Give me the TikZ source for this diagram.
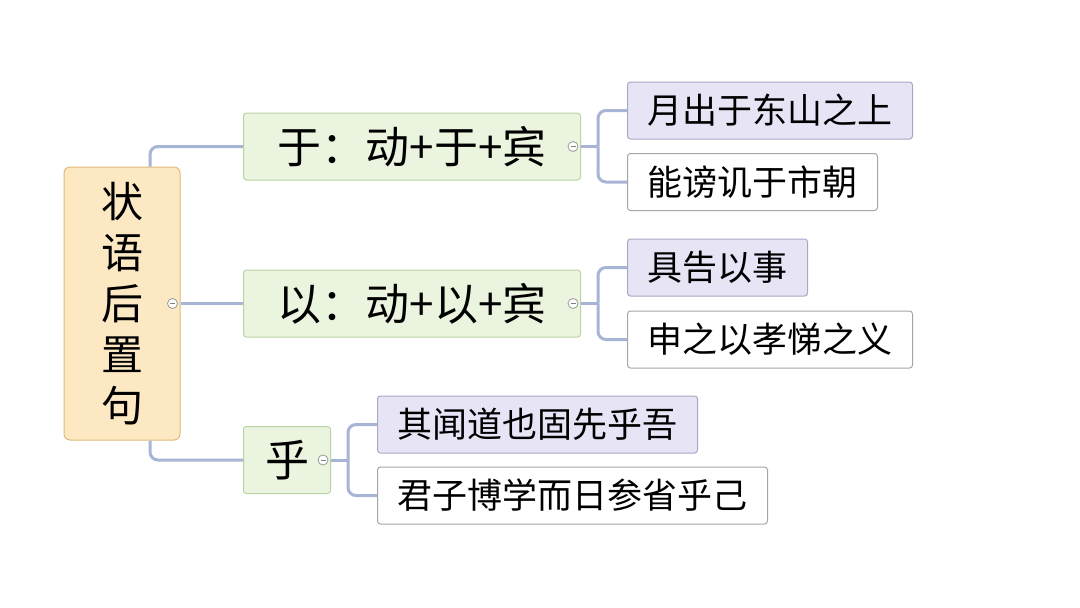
\documentclass[tikz,border=0pt]{standalone}
\usepackage{fontspec}
\setmainfont{Noto Sans CJK SC}
\usetikzlibrary{positioning}
\definecolor{rootfill}{HTML}{FCE9C4}
\definecolor{rootline}{HTML}{E2B978}
\definecolor{midfill}{HTML}{EBF4DF}
\definecolor{midline}{HTML}{B9D3A2}
\definecolor{leaffill}{HTML}{E7E4F6}
\definecolor{leafline}{HTML}{A9A7C6}
\definecolor{linkc}{HTML}{A8B4D6}
\tikzset{
  box/.style={draw, rounded corners=3pt, line width=1pt, anchor=west, inner xsep=18pt, inner ysep=0pt},
  mid/.style={box, fill=midfill, draw=midline, minimum height=67pt, font=\fontsize{44}{48}\selectfont},
  leafa/.style={box, fill=leaffill, draw=leafline, minimum height=57pt, inner xsep=20pt, font=\fontsize{35}{38}\selectfont},
  leafb/.style={box, fill=white, draw=black!35, minimum height=57pt, inner xsep=20pt, font=\fontsize{35}{38}\selectfont},
  link/.style={draw=linkc, line width=3pt, rounded corners=8pt},
  knob/.style={circle, draw=black!40, fill=white, line width=0.8pt, inner sep=0pt, minimum size=10pt}
}
\begin{document}
\begin{tikzpicture}[x=1pt,y=-1pt]
  \useasboundingbox[fill=white] (0,0) rectangle (1080,608);

  \node[draw=rootline, fill=rootfill, rounded corners=6pt, line width=1pt,
    minimum width=116pt, minimum height=273pt, align=center,
    font=\fontsize{42}{51}\selectfont] (root) at (122,303.5) {状\\语\\后\\置\\句};

  \node[mid, minimum width=337pt] (yu) at (243,146.5) {于：动+于+宾};
  \node[mid, minimum width=337pt] (yi) at (243,303.5) {以：动+以+宾};
  \node[mid, minimum width=87pt] (hu) at (243,460) {乎};

  \node[leafa] (l1) at (627,110.5) {月出于东山之上};
  \node[leafb] (l2) at (627,182) {能谤讥于市朝};
  \node[leafa] (l3) at (627,267.5) {具告以事};
  \node[leafb] (l4) at (627,339.5) {申之以孝悌之义};
  \node[leafa] (l5) at (377,424.5) {其闻道也固先乎吾};
  \node[leafb] (l6) at (377,495.5) {君子博学而日参省乎己};

  % root to middle
  \draw[link] ([xshift=28pt]root.north) |- (yu.west);
  \draw[link] (root.east) -- (yi.west);
  \draw[link] ([xshift=28pt]root.south) |- (hu.west);

  % middle to leaves
  \draw[link] (yu.east) -- ++(17,0) coordinate (yuj);
  \draw[link] (yuj) |- (l1.west);
  \draw[link] (yuj) |- (l2.west);
  \draw[link] (yi.east) -- ++(17,0) coordinate (yij);
  \draw[link] (yij) |- (l3.west);
  \draw[link] (yij) |- (l4.west);
  \draw[link] (hu.east) -- ++(17,0) coordinate (huj);
  \draw[link] (huj) |- (l5.west);
  \draw[link] (huj) |- (l6.west);

  \foreach \n in {root, yu, yi, hu} {
    \node[knob] (k\n) at ([xshift=-8pt]\n.east) {};
    \draw[black!50, line width=0.8pt] ([xshift=-2.5pt]k\n.center) -- ([xshift=2.5pt]k\n.center);
  }
\end{tikzpicture}
\end{document}
